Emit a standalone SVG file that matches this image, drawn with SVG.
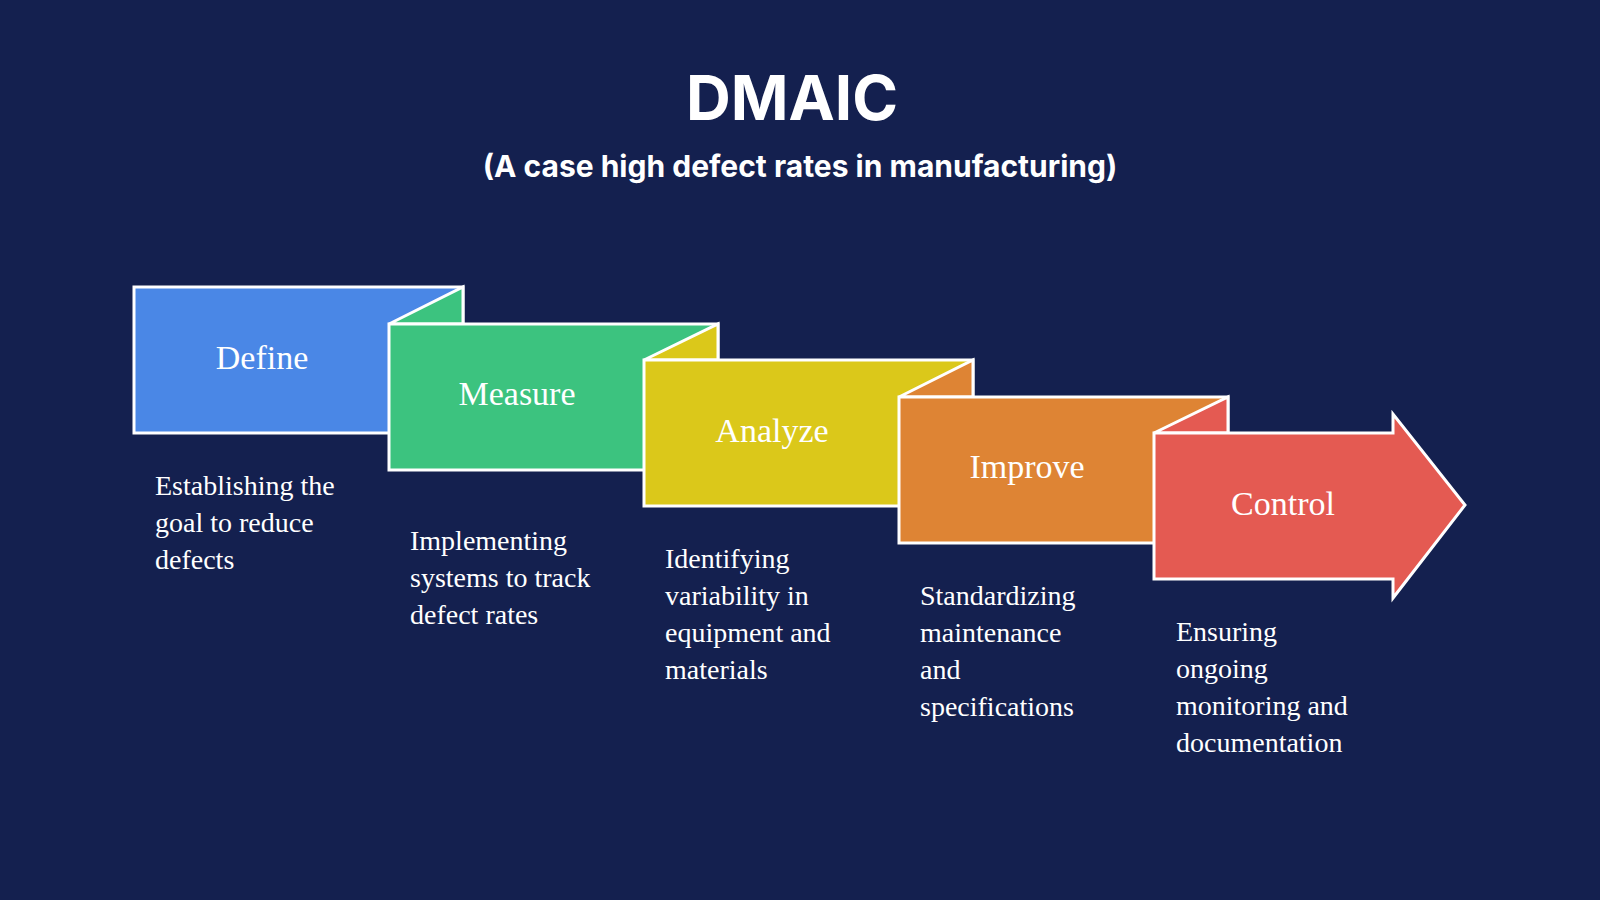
<svg xmlns="http://www.w3.org/2000/svg" width="1600" height="900" viewBox="0 0 1600 900">
<style>
.s{stroke:#ffffff;stroke-width:3;stroke-linejoin:miter}
.lbl{font-family:"Liberation Serif",serif;font-size:34px;fill:#ffffff;text-anchor:middle}
.d{font-family:"Liberation Serif",serif;font-size:28px;fill:#ffffff}
.t{font-family:Inter,"DejaVu Sans",sans-serif;font-weight:700;fill:#ffffff;text-anchor:middle}
</style>
<rect width="1600" height="900" fill="#14204f"/>
<text class="t" x="792" y="120" font-size="62">DMAIC</text>
<text class="t" x="800" y="177" font-size="30">(A case high defect rates in manufacturing)</text>
<g id="define">
<rect class="s" x="134" y="287" width="329" height="146" fill="#4a87e6"/>
<text class="lbl" x="262" y="369">Define</text>
<text class="d"><tspan x="155" y="495">Establishing the</tspan><tspan x="155" y="532">goal to reduce</tspan><tspan x="155" y="569">defects</tspan></text>
</g>
<g id="measure">
<polygon class="s" points="389,324 463,287 463,324" fill="#3cc37f"/>
<rect class="s" x="389" y="324" width="329" height="146" fill="#3cc37f"/>
<text class="lbl" x="517" y="405">Measure</text>
<text class="d"><tspan x="410" y="550">Implementing</tspan><tspan x="410" y="587">systems to track</tspan><tspan x="410" y="624">defect rates</tspan></text>
</g>
<g id="analyze">
<polygon class="s" points="644,360 718,324 718,360" fill="#dbc81a"/>
<rect class="s" x="644" y="360" width="329" height="146" fill="#dbc81a"/>
<text class="lbl" x="772" y="442">Analyze</text>
<text class="d"><tspan x="665" y="568">Identifying</tspan><tspan x="665" y="605">variability in</tspan><tspan x="665" y="642">equipment and</tspan><tspan x="665" y="679">materials</tspan></text>
</g>
<g id="improve">
<polygon class="s" points="899,397 973,360 973,397" fill="#de8434"/>
<rect class="s" x="899" y="397" width="329" height="146" fill="#de8434"/>
<text class="lbl" x="1027" y="478">Improve</text>
<text class="d"><tspan x="920" y="605">Standardizing</tspan><tspan x="920" y="642">maintenance</tspan><tspan x="920" y="679">and</tspan><tspan x="920" y="716">specifications</tspan></text>
</g>
<g id="control">
<polygon class="s" points="1154,433 1228,397 1228,433" fill="#e45a52"/>
<polygon class="s" points="1154,433 1393,433 1393,414 1465,505 1393,598 1393,579 1154,579" fill="#e45a52"/>
<text class="lbl" x="1283" y="515">Control</text>
<text class="d"><tspan x="1176" y="641">Ensuring</tspan><tspan x="1176" y="678">ongoing</tspan><tspan x="1176" y="715">monitoring and</tspan><tspan x="1176" y="752">documentation</tspan></text>
</g>
<g id="connectors"></g>
</svg>
